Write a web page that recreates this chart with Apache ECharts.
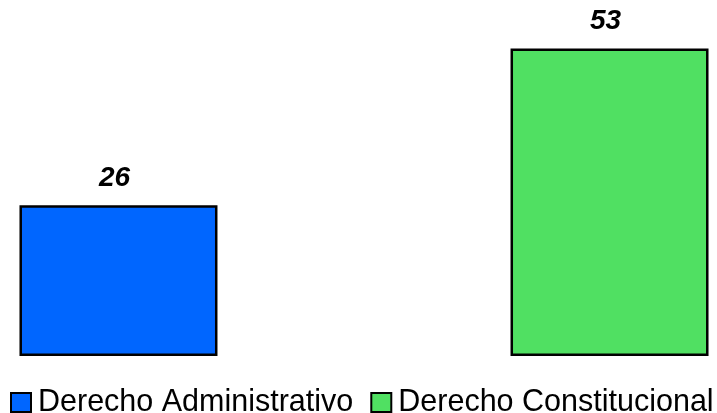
<!DOCTYPE html>
<html>
<head>
<meta charset="utf-8">
<script src="https://cdn.jsdelivr.net/npm/echarts@6/dist/echarts.min.js"></script>
<style>
  html, body { margin: 0; padding: 0; background: #fff; }
  #chart { width: 717px; height: 413px; }
</style>
</head>
<body>
<div id="chart"></div>
<script>
// datos
var categories = ['Total'];
var seriesNames = ['Derecho Administrativo', 'Derecho Constitucional'];
var seriesValues = [[26], [53]];
var seriesColors = ['#0066ff', '#50e062'];

var chart = echarts.init(document.getElementById('chart'));

var series = seriesNames.map(function (name, i) {
  return {
    name: name,
    type: 'bar',
    data: seriesValues[i],
    barWidth: 198,
    barGap: '148%',
    clip: false,
    itemStyle: { color: seriesColors[i], borderColor: '#000', borderWidth: 2.5 },
    label: {
      show: true,
      position: 'top',
      distance: 13,
      offset: [-4, 0],
      color: '#000',
      fontFamily: 'Liberation Sans, Arial, sans-serif',
      fontSize: 28,
      fontWeight: 'bold',
      fontStyle: 'italic'
    }
  };
});

chart.setOption({
  animation: false,
  grid: { left: 18, right: 7, top: 8, bottom: 57 },
  legend: {
    data: seriesNames,
    left: 5,
    top: 382,
    width: 712,
    icon: 'rect',
    itemWidth: 20,
    itemHeight: 19,
    itemGap: 17,
    textStyle: {
      color: '#000',
      fontFamily: 'Liberation Sans, Arial, sans-serif',
      fontSize: 30.5,
      padding: [0, 0, 0, 2]
    }
  },
  xAxis: {
    type: 'category',
    data: categories,
    show: false
  },
  yAxis: {
    type: 'value',
    min: 0,
    max: 60,
    show: false,
    splitLine: { show: false }
  },
  series: series
});
</script>
</body>
</html>
